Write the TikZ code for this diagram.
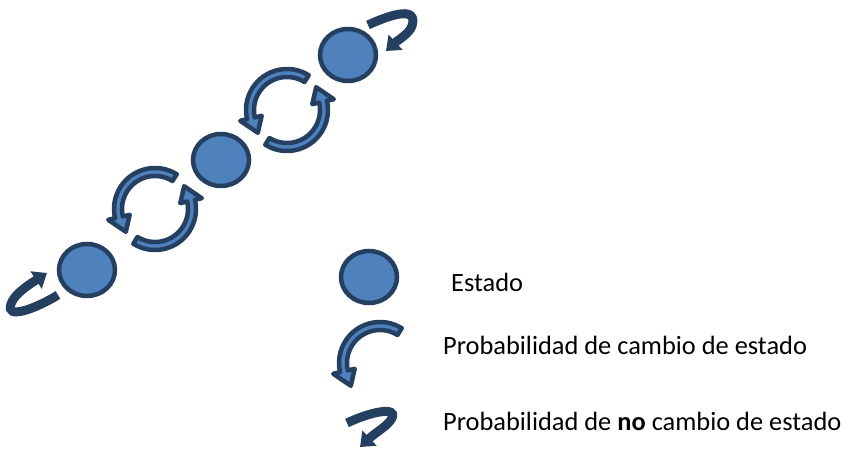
\documentclass[tikz,border=0pt]{standalone}
\usepackage{fontspec}
\setmainfont{Carlito}
\usetikzlibrary{shapes.geometric,arrows.meta}
\definecolor{stfill}{RGB}{79,129,189}
\definecolor{stline}{RGB}{36,63,96}
\tikzset{
  estado/.style={ellipse, draw=stline, fill=stfill, line width=4.5pt,
    minimum width=56pt, minimum height=52pt, inner sep=0pt},
  ringarrowstyle/.style={fill=stfill, draw=stline, line width=4.5pt, line join=round},
  loopar/.style={draw=stline, line width=9pt, -{Triangle[width=20pt,length=13pt]}},
  lbl/.style={anchor=base west, inner sep=0pt, font=\fontsize{26.4}{30}\selectfont}
}
% #1,#2 centre; #3 start angle; #4 angle of arrowhead base; #5 angle of tip
\newcommand\ringarrow[5]{%
  \begin{scope}[shift={(#1,#2)}]
    \path[ringarrowstyle] (#3:41) arc[start angle=#3,end angle=#4,radius=41]
      -- (#4:48) -- (#5:37) -- (#4:26) -- (#4:33)
      arc[start angle=#4,end angle=#3,radius=33] -- cycle;
  \end{scope}}
\begin{document}
\begin{tikzpicture}[x=1pt,y=1pt]
\useasboundingbox (0,0) rectangle (849,452);

% states on the diagonal
\node[estado] (e1) at (87,182) {};
\node[estado] (e2) at (221,292) {};
\node[estado] (e3) at (348,397) {};

% change-of-state arrows
\ringarrow{155}{243}{58}{193}{218}
\ringarrow{155}{243}{238}{373}{398}
\ringarrow{287}{342}{58}{193}{218}
\ringarrow{287}{342}{238}{373}{398}

% no-change loops
\draw[loopar] (58,157) .. controls (35,143) and (5,132) .. (11,148)
  .. controls (14,158) and (30,168) .. (47,179);
\draw[loopar] (368,427) .. controls (392,438) and (418,446) .. (412,426)
  .. controls (409,418) and (398,412) .. (386,401);

% legend
\node[estado] (le) at (369,175) {};
\ringarrow{380}{89}{58}{193}{218}
\draw[loopar] (347,29) .. controls (370,40) and (398,46) .. (392,34)
  .. controls (389,27) and (375,19) .. (360,5);

\node[lbl] (t1) at (451,160) {Estado};
\node[lbl] (t2) at (443,97) {Probabilidad de cambio de estado};
\node[lbl] (t3) at (443,21) {Probabilidad de \textbf{no} cambio de estado};
\end{tikzpicture}
\end{document}
